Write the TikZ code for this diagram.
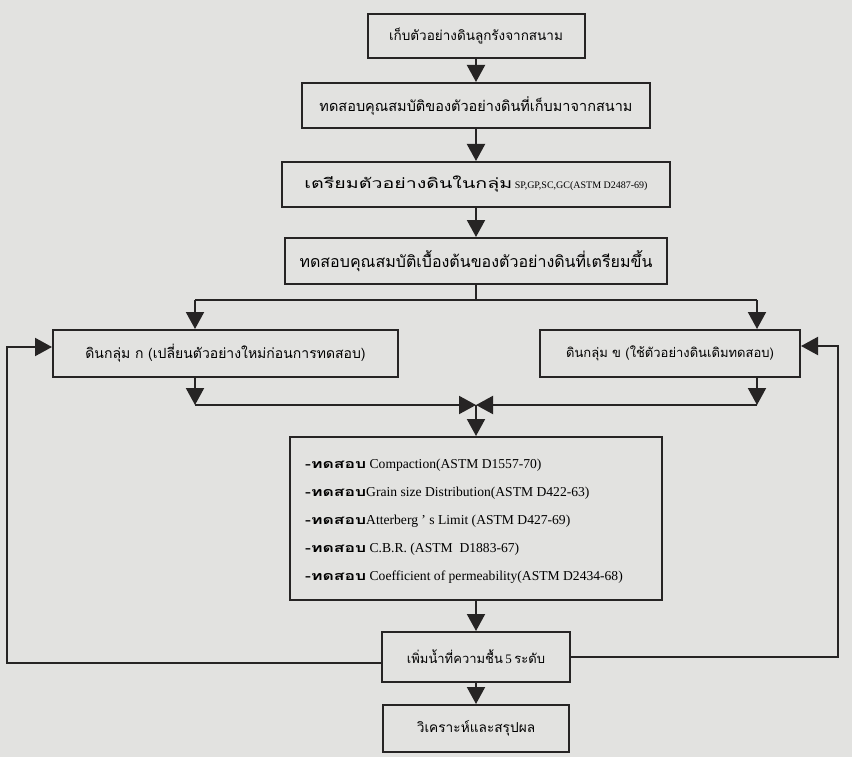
\documentclass[tikz,border=0pt]{standalone}
\usepackage{fontspec}
\setmainfont{Liberation Serif}
\newfontfamily\thai[Script=Thai]{Loma}
\newfontfamily\thaiw[Script=Thai,FakeStretch=1.4]{Loma}
\usetikzlibrary{arrows.meta}
\definecolor{paper}{RGB}{226,226,224}
\definecolor{ink}{RGB}{38,36,36}
\newcommand{\fs}[1]{\fontsize{#1}{#1}\selectfont}
\begin{document}
\begin{tikzpicture}[x=1pt,y=-1pt,
  box/.style={draw=ink,line width=2pt,inner sep=0pt,fill=paper},
  ln/.style={draw=ink,line width=2pt},
  arr/.style={ln,-{Triangle[width=18pt,length=17pt]}},
  item/.style={anchor=west,inner sep=0pt,font=\fs{13.6}}]
\fill[paper] (0,0) rectangle (852,757);
\useasboundingbox (0,0) rectangle (852,757);
\node[box,minimum width=217,minimum height=44] (b1) at (476,36) {\thai\fs{13.5}เก็บตัวอย่างดินลูกรังจากสนาม};
\node[box,minimum width=348,minimum height=45] (b2) at (476,105.5) {\thai\fs{14.5}ทดสอบคุณสมบัติของตัวอย่างดินที่เก็บมาจากสนาม};
\node[box,minimum width=388,minimum height=45] (b3) at (476,184.5) {{\thaiw\fs{14}เตรียมตัวอย่างดินในกลุ่ม} {\fs{10}SP,GP,SC,GC(ASTM D2487-69)}};
\node[box,minimum width=382,minimum height=46] (b4) at (476,261) {\thai\fs{16}ทดสอบคุณสมบัติเบื้องต้นของตัวอย่างดินที่เตรียมขึ้น};
\node[box,minimum width=345,minimum height=47] (b5) at (225.5,353.5) {\thai\fs{14}ดินกลุ่ม ก (เปลี่ยนตัวอย่างใหม่ก่อนการทดสอบ)};
\node[box,minimum width=260,minimum height=47] (b6) at (670,353.5) {\thai\fs{13}ดินกลุ่ม ข (ใช้ตัวอย่างดินเดิมทดสอบ)};
\node[box,minimum width=372,minimum height=163] (b7) at (476,518.5) {};
\node[item] (l1) at (305,465) {{\thaiw\bfseries\fs{12.5}-ทดสอบ} Compaction(ASTM D1557-70)};
\node[item] (l2) at (305,493) {{\thaiw\bfseries\fs{12.5}-ทดสอบ}Grain size Distribution(ASTM D422-63)};
\node[item] (l3) at (305,521) {{\thaiw\bfseries\fs{12.5}-ทดสอบ}Atterberg ’ s Limit (ASTM D427-69)};
\node[item] (l4) at (305,549) {{\thaiw\bfseries\fs{12.5}-ทดสอบ} C.B.R. (ASTM\ \ D1883-67)};
\node[item] (l5) at (305,577) {{\thaiw\bfseries\fs{12.5}-ทดสอบ} Coefficient of permeability(ASTM D2434-68)};
\node[box,minimum width=188,minimum height=50] (b8) at (476,657) {{\thai\fs{13}เพิ่มน้ำที่ความชื้น} {\fs{13}5} {\thai\fs{13}ระดับ}};
\node[box,minimum width=186,minimum height=47] (b9) at (476,728.5) {\thai\fs{13.7}วิเคราะห์และสรุปผล};
% central flow
\draw[arr] (b1) -- (b2);
\draw[arr] (b2) -- (b3);
\draw[arr] (b3) -- (b4);
\coordinate (j) at (476,300);
\coordinate (jl) at (195,300);
\coordinate (jr) at (757,300);
\draw[ln] (b4) -- (j);
\draw[ln] (jl) -- (jr);
\draw[arr] (jl) -- (jl |- b5.north);
\draw[arr] (jr) -- (jr |- b6.north);
\coordinate (ml) at (195,405);
\coordinate (mr) at (757,405);
\coordinate (m) at (476,405);
\draw[arr] (ml |- b5.south) -- (ml);
\draw[arr] (mr |- b6.south) -- (mr);
\draw[arr] (ml) -- (m);
\draw[arr] (mr) -- (m);
\draw[arr] (m) -- (b7);
\draw[arr] (b7) -- (b8);
\draw[arr] (b8) -- (b9);
% feedback loops
\coordinate (fl1) at (7,663);
\coordinate (fl2) at (7,347);
\coordinate (fr1) at (838,657);
\coordinate (fr2) at (838,346);
\draw[arr] (b8.west |- fl1) -- (fl1) -- (fl2) -- (fl2 -| b5.west);
\draw[arr] (b8.east |- fr1) -- (fr1) -- (fr2) -- (fr2 -| b6.east);
\end{tikzpicture}
\end{document}
